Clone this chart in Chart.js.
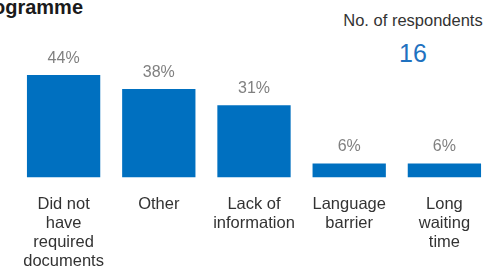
<!DOCTYPE html>
<html>
<head>
<meta charset="utf-8">
<script src="https://cdn.jsdelivr.net/npm/chart.js@4"></script>
<style>
  html, body { margin: 0; padding: 0; background: #fff; overflow: hidden; width: 484px; height: 266px; }
  body { position: relative; font-family: "Liberation Sans", Arial, sans-serif; }
  #wrap { position: absolute; left: 0; top: 0; width: 510px; height: 288px; }
  #title { position: absolute; right: 401px; top: -3px; font-size: 20px; font-weight: bold; color: #1a1a1a; white-space: nowrap; line-height: 20px; }
  #respLabel { position: absolute; left: 333px; width: 160px; top: 11px; text-align: center; font-size: 16.5px; color: #333; white-space: nowrap; }
  #respCount { position: absolute; left: 333px; width: 160px; top: 39px; text-align: center; font-size: 25px; color: #1f72c0; }
</style>
</head>
<body>
<div id="title">programme</div>
<div id="respLabel">No. of respondents</div>
<div id="respCount">16</div>
<div id="wrap"><canvas id="chart" width="510" height="288"></canvas></div>
<script>
  // Chart data
  const categories = [
    ["Did not", "have", "required", "documents"],
    "Other",
    ["Lack of", "information"],
    ["Language", "barrier"],
    ["Long", "waiting", "time"],
  ]
  const percentages = [44, 38, 31, 6, 6]
  const respondents = 16

  document.getElementById("respCount").textContent = respondents

  // Draw value labels above each bar
  const valueLabels = {
    id: "valueLabels",
    afterDatasetsDraw(chart) {
      const ctx = chart.ctx
      const meta = chart.getDatasetMeta(0)
      ctx.save()
      ctx.font = "16px 'Liberation Sans', Arial, sans-serif"
      ctx.fillStyle = "#808080"
      ctx.textAlign = "center"
      ctx.textBaseline = "alphabetic"
      meta.data.forEach((bar, i) => {
        ctx.fillText(percentages[i] + "%", bar.x, bar.y - 12)
      })
      ctx.restore()
    },
  }

  const ctx = document.getElementById("chart")
  new Chart(ctx, {
    type: "bar",
    data: {
      labels: categories,
      datasets: [
        {
          data: percentages,
          backgroundColor: "#0070C0",
          borderWidth: 0,
          barPercentage: 0.77,
          categoryPercentage: 1,
        },
      ],
    },
    options: {
      responsive: false,
      animation: false,
      layout: {
        padding: { left: 16, right: 18, top: 61, bottom: 0 },
      },
      scales: {
        y: {
          display: false,
          min: 0,
          max: 50,
        },
        x: {
          border: { display: false },
          grid: { display: false, drawTicks: false },
          ticks: {
            color: "#333",
            padding: 17,
            maxRotation: 0,
            autoSkip: false,
            font: { family: "'Liberation Sans', Arial, sans-serif", size: 16.5, lineHeight: 1.16 },
          },
        },
      },
      plugins: {
        legend: { display: false },
        tooltip: { enabled: false },
      },
    },
    plugins: [valueLabels],
  })
</script>
</body>
</html>
